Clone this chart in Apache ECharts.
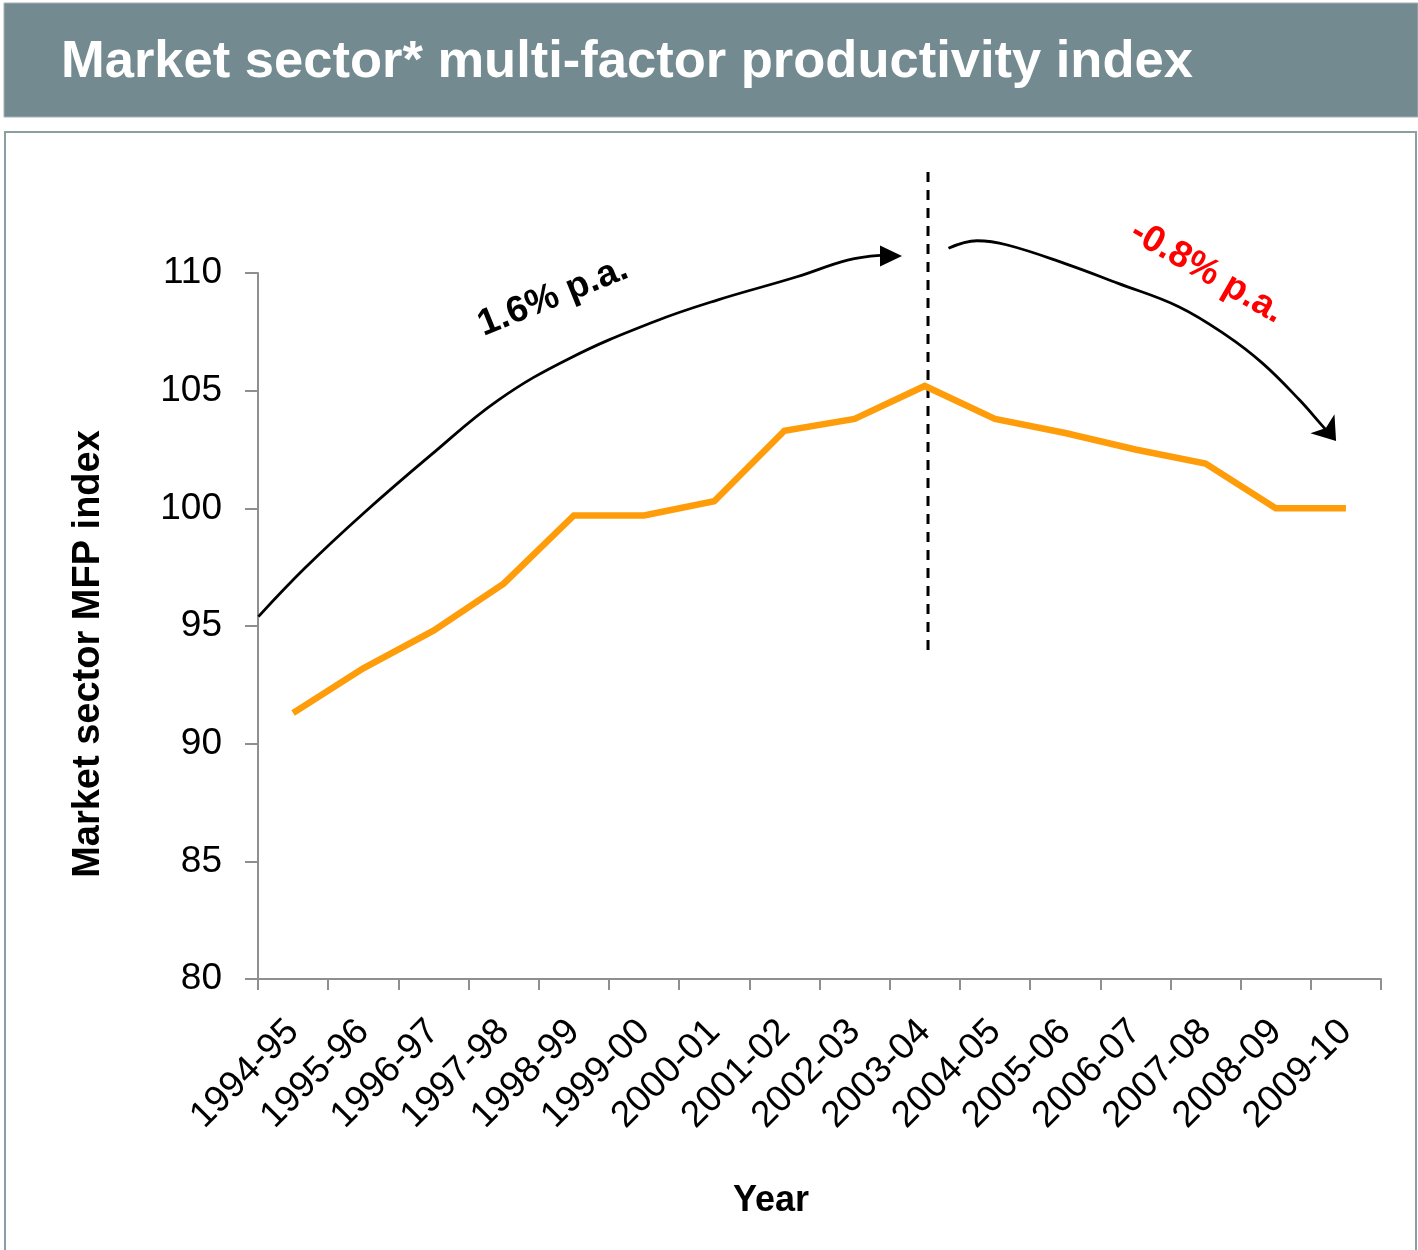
<!DOCTYPE html>
<html><head><meta charset="utf-8">
<script src="https://cdn.jsdelivr.net/npm/echarts@6/dist/echarts.min.js"></script>
<style>html,body{margin:0;padding:0;background:#fff}#c{width:1418px;height:1250px}</style>
</head><body><div id="c"></div>
<script>
// ---- data ----
const categories = ['1994-95','1995-96','1996-97','1997-98','1998-99','1999-00','2000-01','2001-02',
  '2002-03','2003-04','2004-05','2005-06','2006-07','2007-08','2008-09','2009-10'];
const mfpIndex = [91.3, 93.2, 94.8, 96.8, 99.7, 99.7, 100.3, 103.3, 103.8, 105.2, 103.8, 103.2, 102.5, 101.9, 100.0, 100.0];
const yMin = 80, yMax = 110, yStep = 5;
// annotation paths in (category position, index value) coordinates
const riseArc = [[-0.494,95.40],[0.165,97.45],[1.004,99.79],[1.965,102.27],[2.924,104.60],[3.944,106.38],
  [5.142,107.93],[6.043,108.85],[7.179,109.84],[7.900,110.55],[8.362,110.75]];
const riseHead = [[8.519,110.72]];
const fallArc = [[9.338,111.05],[9.744,111.37],[10.176,111.19],[10.989,110.41],[11.756,109.56],[12.618,108.57],
  [13.287,107.37],[13.814,106.16],[14.340,104.60],[14.675,103.47],[14.76,103.20]];
const fallHead = [[14.86,102.86]];
const breakLine = [[9.046,114.29],[9.046,93.77]];
const riseLabel = {pos:[3.703,108.98], text:'1.6% p.a.'};
const fallLabel = {pos:[13.021,110.04], text:'-0.8% p.a.'};

const FONT = '"Liberation Sans", Arial, Helvetica, sans-serif';
const chart = echarts.init(document.getElementById('c'), null, {renderer:'canvas'});
const axisGray = '#8f8f8f';
chart.setOption({
  backgroundColor:'#ffffff',
  animation:false,
  title:{
    text:'Market sector* multi-factor productivity index',
    left:61, top:33, padding:0,
    textStyle:{color:'#ffffff', fontFamily:FONT, fontWeight:'bold', fontSize:52.5, lineHeight:60}
  },
  graphic:[
    {type:'rect', z:-10, silent:true, shape:{x:4,y:3,width:1414,height:114}, style:{fill:'#738a90', stroke:'#a3b2b6', lineWidth:1}},
    {type:'rect', z:-10, silent:true, shape:{x:5,y:132,width:1411,height:1125}, style:{fill:'#ffffff', stroke:'#8b9ea2', lineWidth:2}},
    {type:'text', silent:true, x:89, y:654, rotation:Math.PI/2,
      style:{text:'Market sector MFP index', font:'bold 38px '+FONT, fill:'#000', align:'center', verticalAlign:'middle'}},
    {type:'text', silent:true, x:771, y:1201,
      style:{text:'Year', font:'bold 36px '+FONT, fill:'#000', align:'center', verticalAlign:'middle'}}
  ],
  grid:{left:258, right:37, top:273, bottom:271, containLabel:false},
  xAxis:[{
    type:'category', data:categories, boundaryGap:true,
    axisLine:{show:true, onZero:false, lineStyle:{color:axisGray, width:2}},
    axisTick:{show:true, interval:0, length:11, lineStyle:{color:axisGray, width:2}},
    axisLabel:{interval:0, rotate:45, margin:47, color:'#000', fontFamily:FONT, fontSize:37},
    splitLine:{show:false}
  },{
    type:'value', min:-0.5, max:15.5, show:false, splitLine:{show:false}
  }],
  yAxis:{
    type:'value', min:yMin, max:yMax, interval:yStep,
    axisLine:{show:true, onZero:false, lineStyle:{color:axisGray, width:2}},
    axisTick:{show:true, length:13, lineStyle:{color:axisGray, width:2}},
    axisLabel:{margin:36, color:'#000', fontFamily:FONT, fontSize:37},
    splitLine:{show:false}
  },
  series:[
    {type:'line', name:'MFP index', data:mfpIndex, xAxisIndex:0, showSymbol:false, symbol:'none',
      lineStyle:{color:'#ff9c0a', width:6.5, join:'miter'}, z:5},
    {type:'line', data:breakLine, xAxisIndex:1, symbol:'none', clip:false,
      lineStyle:{color:'#000', width:3, type:[10,8]}, z:4},
    {type:'line', data:riseArc, xAxisIndex:1, symbol:'none', smooth:0.4, clip:false,
      lineStyle:{color:'#000', width:2.8}, z:6},
    {type:'scatter', data:riseHead, xAxisIndex:1, symbol:'triangle', symbolSize:[21,22], symbolRotate:-90, clip:false,
      itemStyle:{color:'#000', opacity:1}, z:6},
    {type:'line', data:fallArc, xAxisIndex:1, symbol:'none', smooth:0.4, clip:false,
      lineStyle:{color:'#000', width:2.8}, z:6},
    {type:'scatter', data:fallHead, xAxisIndex:1, symbol:'arrow', symbolSize:[23,22], symbolRotate:-141.7, clip:false,
      itemStyle:{color:'#000', opacity:1}, z:6},
    {type:'scatter', data:[riseLabel.pos], xAxisIndex:1, symbolSize:1, clip:false, itemStyle:{color:'rgba(0,0,0,0)', opacity:1},
      label:{show:true, position:'inside', rotate:22, formatter:riseLabel.text, color:'#000', opacity:1, fontFamily:FONT, fontWeight:'bold', fontSize:37}, z:7},
    {type:'scatter', data:[fallLabel.pos], xAxisIndex:1, symbolSize:1, clip:false, itemStyle:{color:'rgba(0,0,0,0)', opacity:1},
      label:{show:true, position:'inside', rotate:-30, formatter:fallLabel.text, color:'#ff0000', opacity:1, fontFamily:FONT, fontWeight:'bold', fontSize:37}, z:7}
  ]
});
</script></body></html>
